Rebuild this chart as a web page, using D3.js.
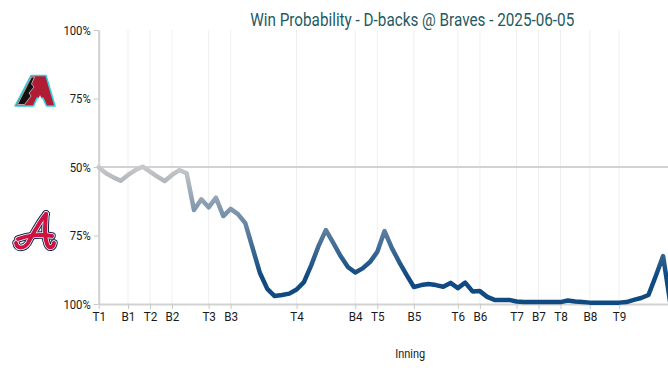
<!DOCTYPE html>
<html>
<head>
<meta charset="utf-8">
<script src="https://cdn.jsdelivr.net/npm/d3@7"></script>
<style>
  body { margin: 0; background: #fff; overflow: hidden; }
  text { font-family: Roboto, "Noto Sans", sans-serif; }
</style>
</head>
<body>
<script>
// inning markers (play index where each half inning starts)
var innings = ["T1","B1","T2","B2","T3","B3","T4","B4","T5","B5","T6","B6","T7","B7","T8","B8","T9"];
var inningPlay = [0, 4, 7, 10, 15, 18, 27, 35, 38, 43, 49, 52, 57, 60, 63, 67, 71];

// Braves win probability (%) after each play
var bravesWinPct = [
  50.1, 52.3, 53.8, 55.0, 52.9, 51.1, 49.9, 51.7, 53.5, 55.1,
  52.9, 51.1, 52.3, 65.7, 61.8, 64.7, 61.2, 67.9, 65.3, 67.2,
  70.5, 79.6, 88.7, 94.5, 97.1, 96.7, 96.2, 94.7, 92.0, 85.8,
  78.8, 73.0, 77.7, 82.5, 86.5, 88.5, 87.0, 84.7, 81.0, 73.4,
  79.6, 84.7, 89.4, 93.8, 93.1, 92.7, 93.1, 93.7, 92.3, 94.2,
  92.2, 95.4, 95.3, 97.4, 98.5, 98.5, 98.5, 99.1, 99.3, 99.3,
  99.3, 99.3, 99.3, 99.3, 98.7, 99.1, 99.3, 99.5, 99.5, 99.5,
  99.5, 99.5, 99.3, 98.5, 97.8, 96.7, 89.8, 82.5, 100
];

var yTicks = [0, 25, 50, 75, 100];
var yTickLabels = ["100%", "75%", "50%", "75%", "100%"];

const W = 740, H = 376;
const plotLeft = 98.7, plotTop = 30, plotBottom = 304;
const step = 7.33;
const maxPlay = 85;

const svg = d3.select("body").append("svg")
    .attr("width", W)
    .attr("height", H);

var x = d3.scaleLinear().domain([0, maxPlay]).range([plotLeft, plotLeft + maxPlay * step]);
var y = d3.scaleLinear().domain([0, 100]).range([plotTop, plotBottom]);
const midX = (x.range()[0] + x.range()[1]) / 2;

// gradient: red toward D-backs side, grey at 50%, blue toward Braves side
var grad = svg.append("defs").append("linearGradient")
    .attr("id", "wpGrad")
    .attr("gradientUnits", "userSpaceOnUse")
    .attr("x1", 0).attr("x2", 0)
    .attr("y1", y(0)).attr("y2", y(100));
[[0, "#a71930"], [0.1, "#a71930"], [0.5, "#c8c8c8"], [0.9, "#0f4a82"], [1, "#0f4a82"]]
  .forEach(s => grad.append("stop").attr("offset", s[0]).attr("stop-color", s[1]));

// vertical grid lines
svg.append("g").selectAll("line")
    .data(inningPlay)
    .enter().append("line")
    .attr("x1", d => x(d)).attr("x2", d => x(d))
    .attr("y1", plotTop).attr("y2", plotBottom)
    .attr("stroke", "#efefef")
    .attr("stroke-width", 1);

// 50% line
svg.append("line")
    .attr("x1", plotLeft).attr("x2", x.range()[1])
    .attr("y1", y(50)).attr("y2", y(50))
    .attr("stroke", "#d2d2d2")
    .attr("stroke-width", 2);

// axes
var yAxis = svg.append("g")
    .attr("transform", "translate(" + plotLeft + ",0)")
    .call(d3.axisLeft(y).tickValues(yTicks)
      .tickFormat((d, i) => yTickLabels[i])
      .tickSize(5).tickSizeOuter(0).tickPadding(3));

var xAxis = svg.append("g")
    .attr("transform", "translate(0," + plotBottom + ")")
    .call(d3.axisBottom(x).tickValues(inningPlay)
      .tickFormat((d, i) => innings[i])
      .tickSize(5).tickSizeOuter(0).tickPadding(3));

[yAxis, xAxis].forEach(function(g) {
  g.select(".domain").attr("stroke", "#d2d2d2").attr("stroke-width", 2);
  g.selectAll(".tick line").attr("stroke", "#c8c8c8");
  g.selectAll(".tick text")
    .attr("fill", "#1a1a1a")
    .attr("font-size", "13px")
    .attr("font-family", "Roboto, sans-serif");
});
yAxis.selectAll(".tick text").attr("transform", "scale(0.87,1)").attr("x", -8 / 0.87);
xAxis.selectAll(".tick text").attr("transform", "scale(0.9,1)");

// win probability line
var line = d3.line()
    .x((d, i) => x(i))
    .y(d => y(d));

svg.append("path")
    .datum(bravesWinPct)
    .attr("d", line)
    .attr("fill", "none")
    .attr("stroke", "url(#wpGrad)")
    .attr("stroke-width", 4.5)
    .attr("stroke-linejoin", "round")
    .attr("stroke-linecap", "round");

// title
svg.append("text")
    .attr("x", midX + 2).attr("y", 26)
    .attr("text-anchor", "middle")
    .attr("font-size", "18.5px")
    .attr("fill", "#1f5a63")
    .attr("textLength", 324)
    .attr("lengthAdjust", "spacingAndGlyphs")
    .text("Win Probability - D-backs @ Braves - 2025-06-05");

// axis title
svg.append("text")
    .attr("x", midX).attr("y", 358)
    .attr("text-anchor", "middle")
    .attr("font-size", "12.5px")
    .attr("fill", "#222")
    .attr("textLength", 30)
    .attr("lengthAdjust", "spacingAndGlyphs")
    .text("Inning");

// D-backs logo (simplified)
var dbx = svg.append("g");
dbx.append("path")
    .attr("d", "M15,106 L31,75.5 L46,75.5 L55,106 L46.5,106 L43,98 L37,98 L33.5,106 Z")
    .attr("fill", "#b01c33").attr("stroke", "#30ced8").attr("stroke-width", 1.6)
    .attr("stroke-linejoin", "round");
dbx.append("path")
    .attr("d", "M17.5,104.5 L31.5,77 L34.5,77 L31.5,84 L34,87 L29,93 L31,96 L24.5,104.5 Z")
    .attr("fill", "#111")
    .attr("stroke", "#fff").attr("stroke-width", 0.6);
dbx.append("path")
    .attr("d", "M37,103 L40,95 L43,103 Z")
    .attr("fill", "#fff");

// Braves logo (simplified script A)
var atl = svg.append("g")
    .attr("fill", "none").attr("stroke-linecap", "round").attr("stroke-linejoin", "round");
var atlPaths = [
  "M16,243 C17,249 24,249 28,243 C33,234 39,222 46,214",
  "M46,214 C45,226 44,236 47,244 C49,249 53,248 54,243",
  "M18,239 C28,235 42,234 52,236"
];
atlPaths.forEach(function(p) {
  atl.append("path").attr("d", p).attr("stroke", "#13274f").attr("stroke-width", 7.5);
});
atlPaths.forEach(function(p) {
  atl.append("path").attr("d", p).attr("stroke", "#fff").attr("stroke-width", 5.5);
});
atlPaths.forEach(function(p) {
  atl.append("path").attr("d", p).attr("stroke", "#ce1141").attr("stroke-width", 4);
});
</script>
</body>
</html>
